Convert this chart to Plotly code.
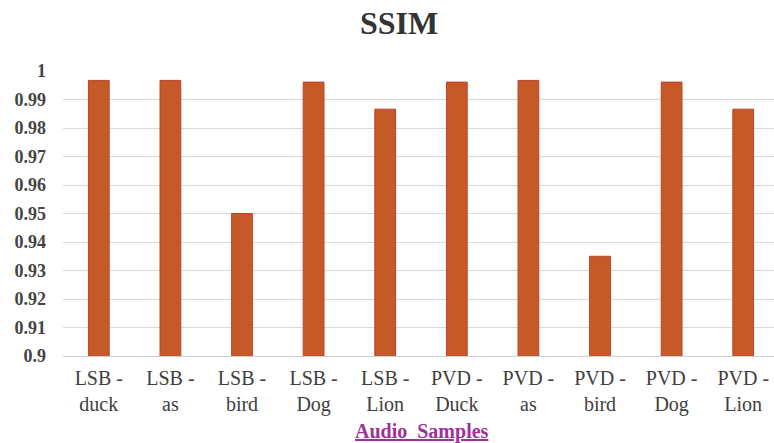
import plotly.graph_objects as go

categories = ["LSB -<br>duck", "LSB -<br>as", "LSB -<br>bird", "LSB -<br>Dog", "LSB -<br>Lion",
              "PVD -<br>Duck", "PVD -<br>as", "PVD -<br>bird", "PVD -<br>Dog", "PVD -<br>Lion"]
ssim_values = [0.9967, 0.9967, 0.950, 0.9961, 0.9866, 0.9961, 0.9967, 0.935, 0.9961, 0.9866]
y_tick_values = [0.9, 0.91, 0.92, 0.93, 0.94, 0.95, 0.96, 0.97, 0.98, 0.99, 1.0]
y_tick_labels = ["0.9", "0.91", "0.92", "0.93", "0.94", "0.95", "0.96", "0.97", "0.98", "0.99", "1"]

serif = "Liberation Serif, Times New Roman, serif"

# plot area in pixels
W, H = 774, 443
L, T, B = 63, 71, 87
plot_h = H - T - B

fig = go.Figure(
    go.Bar(
        x=list(range(len(categories))),
        y=ssim_values,
        width=0.29,
        marker=dict(color="#c55a28", line=dict(color="#c0402a", width=1)),
    )
)

fig.update_layout(
    width=W,
    height=H,
    margin=dict(l=L, r=0, t=T, b=B),
    paper_bgcolor="white",
    plot_bgcolor="white",
    showlegend=False,
    title=dict(
        text="<b>SSIM</b>",
        x=399 / W,
        xanchor="center",
        y=1 - 23 / H,
        yanchor="middle",
        font=dict(family=serif, size=32, color="#333333"),
    ),
    xaxis=dict(
        range=[-0.5, 9.43],
        tickvals=list(range(len(categories))),
        ticktext=categories,
        tickfont=dict(family=serif, size=20, color="#404040"),
        ticklabelstandoff=4,
        showgrid=False,
        showline=True,
        linecolor="#d0d0d0",
        linewidth=1,
        ticks="",
        zeroline=False,
    ),
    yaxis=dict(
        range=[0.9, 1.0],
        tickvals=y_tick_values,
        ticktext=y_tick_labels,
        tickfont=dict(family=serif, size=18, color="#444444", weight="bold"),
        showgrid=True,
        gridcolor="#d9d9d9",
        gridwidth=1,
        ticks="",
        ticklabelstandoff=16,
        zeroline=False,
    ),
    annotations=[
        dict(
            text="<b><u>Audio  Samples</u></b>",
            x=(422 - L) / (W - L),
            xref="paper",
            xanchor="center",
            y=-(431 - (T + plot_h)) / plot_h,
            yref="paper",
            yanchor="middle",
            showarrow=False,
            font=dict(family=serif, size=20, color="#a0309a"),
        )
    ],
)

fig.write_html("out.html")
